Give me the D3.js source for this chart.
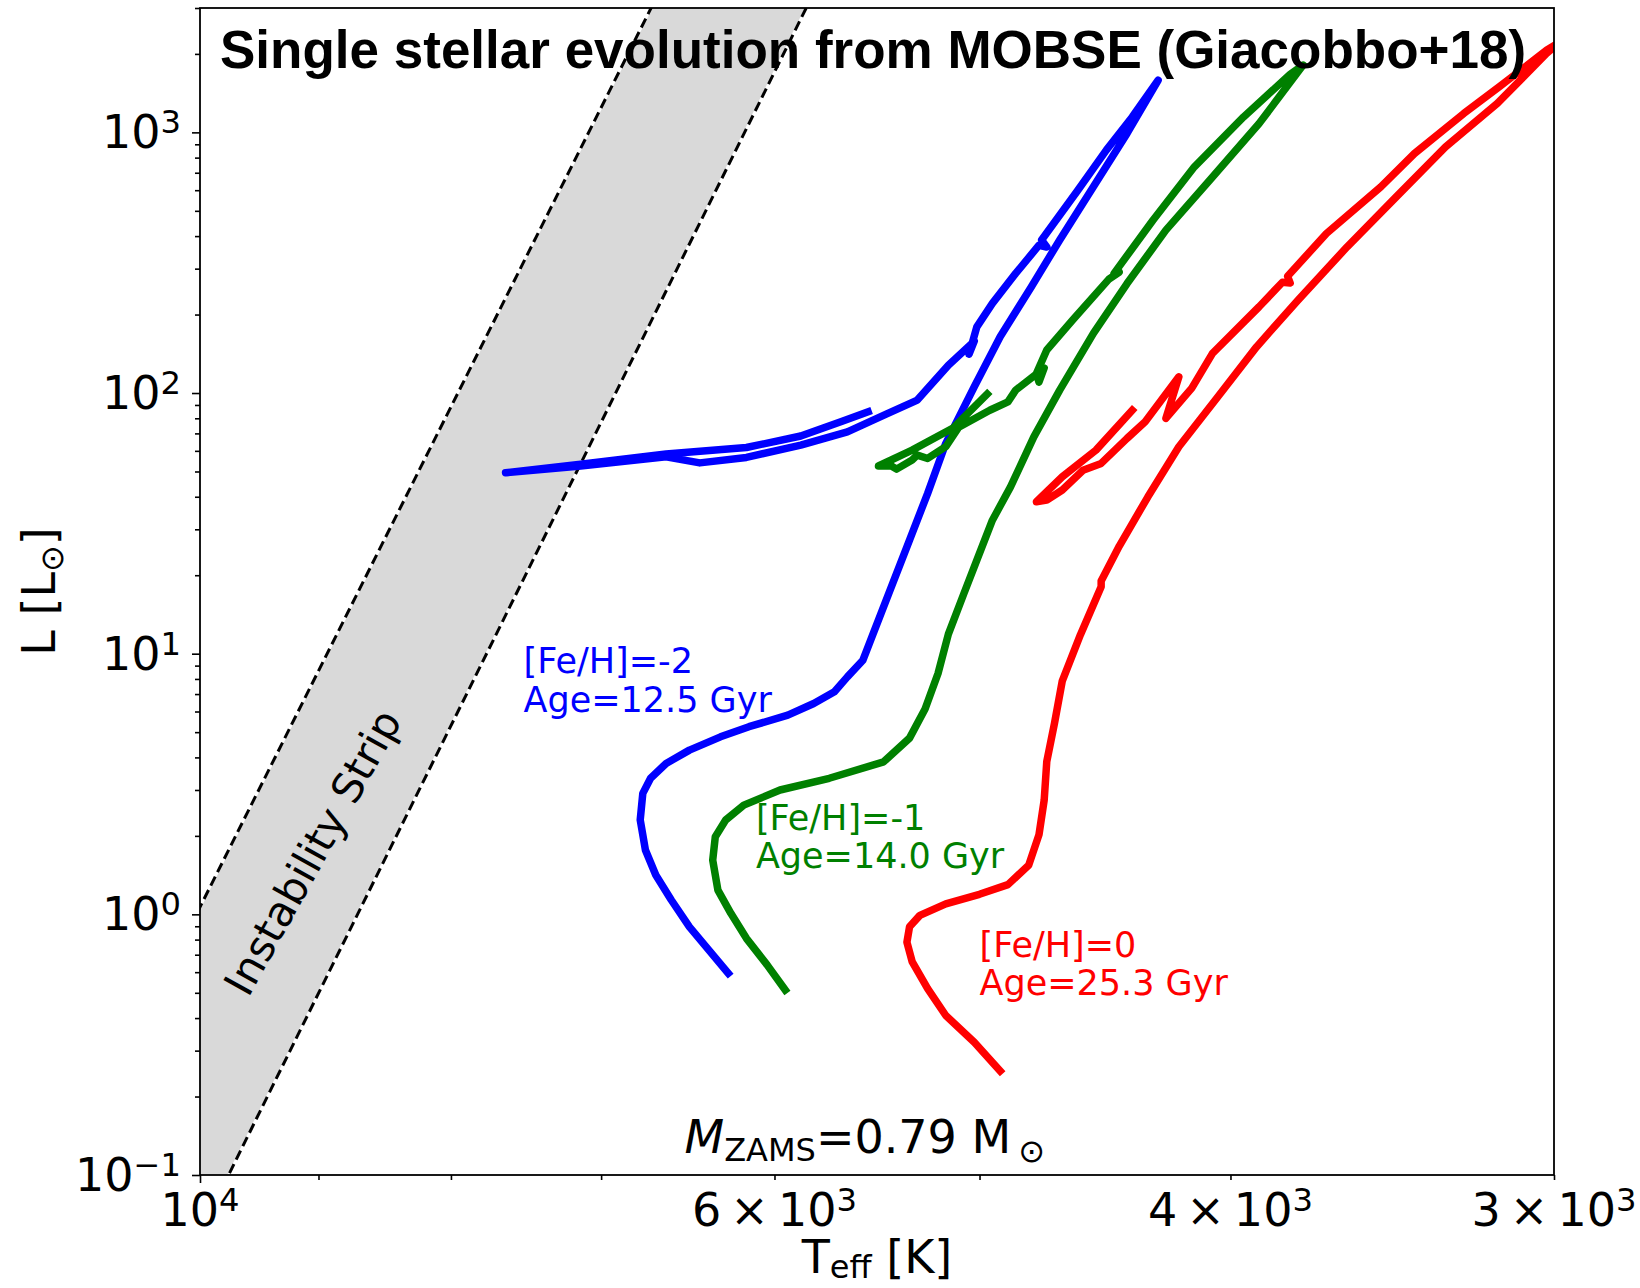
<!DOCTYPE html>
<html>
<head>
<meta charset="utf-8">
<script src="https://cdn.jsdelivr.net/npm/d3@7"></script>
<style>
  body { margin: 0; background: #fff; }
  svg { display: block; }
</style>
</head>
<body>
<div class="hr-chart"></div>
<script>
// single star tracks, M_ZAMS = 0.79 Msun (MOBSE)
// values are log10 Teff [K] and log10 L [Lsun]
const blueLogT = [3.796, 3.803, 3.811, 3.818, 3.824, 3.828, 3.830, 3.829, 3.826, 3.820, 3.811, 3.799, 3.788, 3.773, 3.763, 3.755, 3.750, 3.744, 3.740, 3.734, 3.726, 3.719, 3.712, 3.701, 3.691, 3.679, 3.668, 3.655, 3.642, 3.630,
  3.640, 3.650, 3.661, 3.675, 3.673, 3.676, 3.685, 3.694, 3.700, 3.703, 3.701, 3.711, 3.723, 3.735, 3.750, 3.768, 3.789, 3.807, 3.820, 3.853, 3.882,
  3.853, 3.820, 3.789, 3.768, 3.752, 3.742]
const blueLogL = [-0.226, -0.143, -0.048, 0.055, 0.151, 0.247, 0.362, 0.464, 0.522, 0.579, 0.630, 0.681, 0.720, 0.764, 0.809, 0.854, 0.911, 0.975, 1.078, 1.231, 1.436, 1.615, 1.807, 2.024, 2.216, 2.407, 2.587, 2.791, 2.996, 3.200,
  3.059, 2.932, 2.778, 2.587, 2.560, 2.567, 2.459, 2.344, 2.254, 2.149, 2.199, 2.107, 1.973, 1.919, 1.851, 1.800, 1.753, 1.732, 1.755, 1.720, 1.694,
  1.727, 1.766, 1.791, 1.835, 1.892, 1.928]

const greenLogT = [3.774, 3.781, 3.789, 3.795, 3.800, 3.802, 3.801, 3.797, 3.790, 3.776, 3.757, 3.736, 3.726, 3.720, 3.715, 3.711, 3.705, 3.700, 3.694, 3.687, 3.678, 3.668, 3.655, 3.642, 3.627, 3.610, 3.591, 3.574,
  3.579, 3.597, 3.616, 3.632, 3.647, 3.645, 3.649, 3.663, 3.673, 3.677, 3.676, 3.674, 3.685, 3.688, 3.695, 3.707, 3.712, 3.719, 3.723, 3.725, 3.731, 3.733, 3.738,
  3.725, 3.709, 3.696]
const greenLogL = [-0.290, -0.194, -0.092, 0.004, 0.093, 0.208, 0.298, 0.362, 0.419, 0.477, 0.522, 0.585, 0.676, 0.788, 0.924, 1.075, 1.231, 1.359, 1.512, 1.640, 1.832, 2.011, 2.229, 2.420, 2.625, 2.817, 3.034, 3.258,
  3.223, 3.059, 2.868, 2.663, 2.459, 2.464, 2.437, 2.280, 2.165, 2.075, 2.042, 2.096, 2.011, 1.966, 1.934, 1.869, 1.794, 1.749, 1.762, 1.743, 1.708, 1.720, 1.720,
  1.781, 1.867, 1.996]

const redLogT = [3.691, 3.701, 3.712, 3.719, 3.725, 3.727, 3.726, 3.722, 3.712, 3.699, 3.688, 3.680, 3.676, 3.674, 3.673, 3.670, 3.667, 3.660, 3.652, 3.652, 3.645, 3.634, 3.622, 3.607, 3.592, 3.576, 3.557, 3.538, 3.519, 3.499, 3.480, 3.475,
  3.480, 3.498, 3.512, 3.531, 3.544, 3.565, 3.580, 3.579, 3.582, 3.591, 3.609, 3.617, 3.627, 3.622, 3.635, 3.642, 3.652, 3.659, 3.667, 3.673, 3.677,
  3.667, 3.654, 3.640]
const redLogL = [-0.601, -0.491, -0.388, -0.285, -0.181, -0.107, -0.048, -0.004, 0.040, 0.077, 0.114, 0.188, 0.306, 0.438, 0.586, 0.734, 0.896, 1.073, 1.257, 1.279, 1.413, 1.601, 1.794, 1.985, 2.177, 2.356, 2.561, 2.753, 2.944, 3.111, 3.303, 3.346,
  3.315, 3.177, 3.072, 2.919, 2.791, 2.612, 2.448, 2.422, 2.425, 2.331, 2.152, 2.019, 1.903, 2.062, 1.890, 1.826, 1.730, 1.704, 1.628, 1.589, 1.583,
  1.679, 1.781, 1.934]

// instability strip edges (log10 Teff, log10 L)
const stripBlueEdgeLogT = [4.04, 3.80]
const stripBlueEdgeLogL = [-0.764, 3.988]
const stripRedEdgeLogT = [4.04, 3.74]
const stripRedEdgeLogL = [-2.024, 3.997]

const trackNames = ['[Fe/H]=-2', '[Fe/H]=-1', '[Fe/H]=0']
const trackAges = ['Age=12.5 Gyr', 'Age=14.0 Gyr', 'Age=25.3 Gyr']
// label anchors in data units (Teff, L) -- baseline of the second line
const labelTeff = [7500, 6100, 5000]
const labelL = [6, 1.5, 0.49]

const yTickValues = [0.1, 1, 10, 100, 1000]
const yTickExps = ['\u22121', '0', '1', '2', '3']
const xTickValues = [10000, 6000, 4000, 3000]
const xTickMants = ['', '6', '4', '3']
const xTickExps = ['4', '3', '3', '3']

const BLUE = '#0000ff'
const GREEN = '#008000'
const RED = '#ff0000'
const STRIP_FILL = '#d9d9d9'
const FONT = 'DejaVu Sans, sans-serif'

const W = 1640
const H = 1288
const margin = { top: 8, right: 86, bottom: 113, left: 200 }
const width = W - margin.left - margin.right
const height = H - margin.top - margin.bottom

const svg = d3.select('.hr-chart').append('svg')
  .attr('width', W)
  .attr('height', H)
  .style('background', '#fff')

const chart = svg.append('g')
  .attr('transform', `translate(${margin.left},${margin.top})`)

chart.append('clipPath')
  .attr('id', 'plot-clip')
  .append('rect')
  .attr('width', width)
  .attr('height', height)

const x = d3.scaleLog().domain([10000, 3000]).range([0, width])
const y = d3.scaleLog().domain([0.1, 3000]).range([height, 0])

const line = d3.line()
  .x(d => x(Math.pow(10, d[0])))
  .y(d => y(Math.pow(10, d[1])))

const plot = chart.append('g').attr('clip-path', 'url(#plot-clip)')

// instability strip
const blueEdge = d3.zip(stripBlueEdgeLogT, stripBlueEdgeLogL)
const redEdge = d3.zip(stripRedEdgeLogT, stripRedEdgeLogL)
plot.append('path')
  .datum(blueEdge.concat(redEdge.slice().reverse()))
  .attr('fill', STRIP_FILL)
  .attr('stroke', 'none')
  .attr('d', line.curve(d3.curveLinearClosed))
line.curve(d3.curveLinear)

;[blueEdge, redEdge].forEach(edge => {
  plot.append('path')
    .datum(edge)
    .attr('fill', 'none')
    .attr('stroke', '#fff')
    .attr('stroke-width', 2.4)
    .attr('d', line)
  plot.append('path')
    .datum(edge)
    .attr('fill', 'none')
    .attr('stroke', '#000')
    .attr('stroke-width', 3)
    .attr('stroke-dasharray', '10,5')
    .attr('d', line)
})

// tracks
const tracks = [
  { logT: blueLogT, logL: blueLogL, color: BLUE },
  { logT: greenLogT, logL: greenLogL, color: GREEN },
  { logT: redLogT, logL: redLogL, color: RED }
]
tracks.forEach(t => {
  plot.append('path')
    .datum(d3.zip(t.logT, t.logL))
    .attr('fill', 'none')
    .attr('stroke', t.color)
    .attr('stroke-width', 7.5)
    .attr('stroke-linejoin', 'round')
    .attr('stroke-linecap', 'square')
    .attr('d', line)
})

// track labels
tracks.forEach((t, i) => {
  const lx = x(labelTeff[i])
  const ly = y(labelL[i])
  const txt = chart.append('text')
    .attr('font-family', FONT)
    .attr('font-size', 35)
    .attr('fill', t.color)
  txt.append('tspan').attr('x', lx).attr('y', ly - 38.5).text(trackNames[i])
  txt.append('tspan').attr('x', lx).attr('y', ly).text(trackAges[i])
})

// strip label
chart.append('text')
  .attr('transform', `translate(${x(9046)},${y(1.73)}) rotate(-61)`)
  .attr('text-anchor', 'middle')
  .attr('dominant-baseline', 'central')
  .attr('font-family', FONT)
  .attr('font-size', 42)
  .text('Instability Strip')

// mass label
const mz = chart.append('text')
  .attr('x', x(6500))
  .attr('y', y(0.1215))
  .attr('font-family', FONT)
  .attr('font-size', 46)
mz.append('tspan').attr('font-style', 'italic').text('M')
mz.append('tspan').attr('font-size', 32).attr('dy', 8).text('ZAMS')
mz.append('tspan').attr('dy', -8).text('=0.79 M')
mz.append('tspan').attr('font-size', 32).attr('dx', 7).attr('dy', 9).text('\u2299')

// title
chart.append('text')
  .attr('x', 20)
  .attr('y', 60)
  .attr('font-family', 'Liberation Sans, Arial, sans-serif')
  .attr('font-weight', 'bold')
  .attr('font-size', 53)
  .text('Single stellar evolution from MOBSE (Giacobbo+18)')

// axes
const yAll = y.ticks()
const yMinor = yAll.filter(v => !yTickValues.some(m => Math.abs(m - v) / v < 1e-6))
const xAll = x.ticks()
const xMinor = xAll.filter(v => v !== 10000)

const styleAxis = g => {
  g.select('.domain').remove()
  g.selectAll('line').attr('stroke', '#000').attr('stroke-width', 1.6)
}

chart.append('g')
  .call(d3.axisLeft(y).tickValues(yTickValues).tickSize(8).tickFormat(''))
  .call(styleAxis)
chart.append('g')
  .call(d3.axisLeft(y).tickValues(yMinor).tickSize(5).tickFormat(''))
  .call(styleAxis)
chart.append('g')
  .attr('transform', `translate(0,${height})`)
  .call(d3.axisBottom(x).tickValues([10000]).tickSize(8).tickFormat(''))
  .call(styleAxis)
chart.append('g')
  .attr('transform', `translate(0,${height})`)
  .call(d3.axisBottom(x).tickValues(xMinor).tickSize(5).tickFormat(''))
  .call(styleAxis)

const TICK_FS = 46
yTickValues.forEach((v, i) => {
  const t = chart.append('text')
    .attr('x', -19)
    .attr('y', y(v) + 16)
    .attr('text-anchor', 'end')
    .attr('font-family', FONT)
    .attr('font-size', TICK_FS)
  t.append('tspan').text('10')
  t.append('tspan').attr('font-size', TICK_FS * 0.7).attr('dy', -15).text(yTickExps[i])
})

xTickValues.forEach((v, i) => {
  const t = chart.append('text')
    .attr('x', x(v))
    .attr('y', height + 51)
    .attr('text-anchor', 'middle')
    .attr('font-family', FONT)
    .attr('font-size', TICK_FS)
  if (xTickMants[i]) {
    t.append('tspan').text(xTickMants[i])
    t.append('tspan').attr('dx', 9).text('\u00d7')
    t.append('tspan').attr('dx', 9).text('10')
  } else {
    t.append('tspan').text('10')
  }
  t.append('tspan').attr('font-size', TICK_FS * 0.7).attr('dy', -15).text(xTickExps[i])
})

// frame
chart.append('rect')
  .attr('width', width)
  .attr('height', height)
  .attr('fill', 'none')
  .attr('stroke', '#000')
  .attr('stroke-width', 1.8)

// axis labels
const xl = chart.append('text')
  .attr('x', width / 2)
  .attr('y', height + 98)
  .attr('text-anchor', 'middle')
  .attr('font-family', FONT)
  .attr('font-size', 46)
xl.append('tspan').text('T')
xl.append('tspan').attr('font-size', 32).attr('dy', 5).text('eff')
xl.append('tspan').attr('dy', -5).text(' [K]')

const yl = chart.append('text')
  .attr('transform', `translate(${-145},${height / 2}) rotate(-90)`)
  .attr('text-anchor', 'middle')
  .attr('font-family', FONT)
  .attr('font-size', 46)
yl.append('tspan').text('L [L')
yl.append('tspan').attr('font-size', 32).attr('dy', 8).text('\u2299')
yl.append('tspan').attr('dy', -8).text(']')
</script>
</body>
</html>
